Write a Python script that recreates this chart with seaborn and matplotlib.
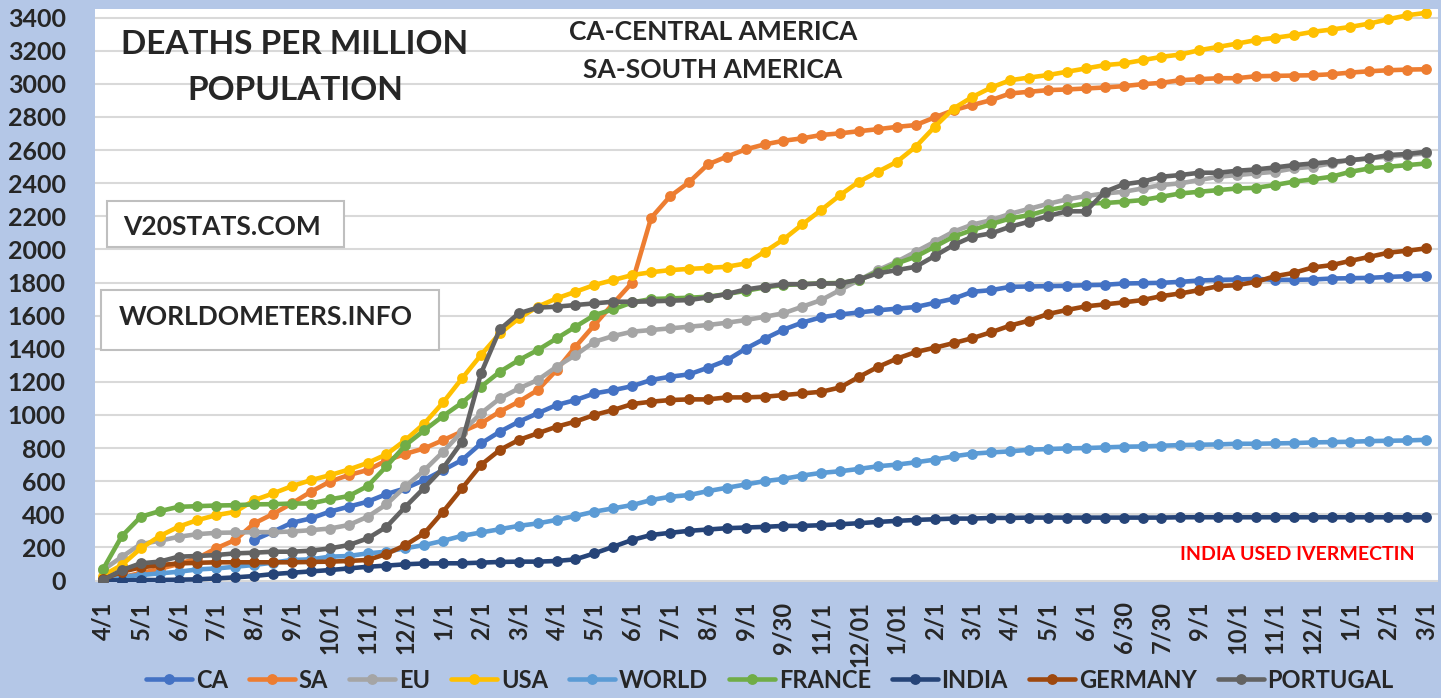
import numpy as np
import pandas as pd
import matplotlib
matplotlib.use("Agg")
import matplotlib.pyplot as plt
from matplotlib.patches import Rectangle
from matplotlib.lines import Line2D
import seaborn as sns

# ---------------- data ----------------
tick_labels = ["4/1", "5/1", "6/1", "7/1", "8/1", "9/1", "10/1", "11/1", "12/1", "1/1", "2/1", "3/1",
               "4/1", "5/1", "6/1", "7/1", "8/1", "9/1", "9/30", "11/1", "12/01", "1/01", "2/1", "3/1",
               "4/1", "5/1", "6/1", "6/30", "7/30", "9/1", "10/1", "11/1", "12/1", "1/1", "2/1", "3/1"]

series_names = ["CA", "SA", "EU", "USA", "WORLD", "FRANCE", "INDIA", "GERMANY", "PORTUGAL"]

ca = [None, None, None, None, None, None, None, None,
      245, 295, 349, 375, 416, 446, 476, 522, 557, 607, 667, 728, 828, 899, 959, 1010, 1060, 1090,
      1130, 1150, 1174, 1211, 1231, 1245, 1285, 1330, 1400, 1460, 1515, 1558, 1590, 1607, 1619, 1632,
      1642, 1652, 1677, 1702, 1744, 1754, 1774, 1776, 1778, 1780, 1784, 1786, 1794, 1796, 1798, 1804,
      1812, 1816, 1818, 1822, 1816, 1816, 1818, 1824, 1826, 1828, 1834, 1838, 1842]
sa = [5, 20, 45, 70, 100, 135, 195, 245, 345, 402, 466, 536, 597, 637, 667, 725, 765, 798, 848, 900,
      949, 1020, 1080, 1150, 1271, 1412, 1543, 1674, 1800, 2190, 2320, 2405, 2513, 2560, 2604, 2634,
      2656, 2671, 2691, 2701, 2714, 2726, 2740, 2751, 2797, 2841, 2872, 2902, 2942, 2952, 2962, 2966,
      2972, 2978, 2986, 2998, 3006, 3022, 3028, 3034, 3034, 3046, 3048, 3050, 3052, 3058, 3068, 3076,
      3082, 3086, 3088]
eu = [63, 143, 220, 240, 264, 280, 288, 290, 292, 292, 296, 304, 314, 335, 385, 460, 568, 666, 778,
      899, 1010, 1100, 1160, 1211, 1291, 1362, 1442, 1477, 1503, 1513, 1523, 1533, 1543, 1557, 1573,
      1593, 1614, 1654, 1694, 1755, 1815, 1875, 1926, 1986, 2046, 2107, 2150, 2177, 2215, 2245, 2275,
      2302, 2322, 2338, 2348, 2368, 2389, 2399, 2419, 2439, 2449, 2459, 2469, 2489, 2499, 2520, 2540,
      2550, 2560, 2570, 2580]
usa = [30, 94, 194, 268, 325, 365, 395, 415, 485, 526, 570, 606, 636, 670, 710, 762, 848, 948, 1076,
       1221, 1362, 1493, 1583, 1654, 1704, 1744, 1785, 1815, 1845, 1862, 1875, 1882, 1888, 1895, 1915,
       1985, 2060, 2151, 2238, 2328, 2409, 2469, 2529, 2620, 2740, 2851, 2921, 2978, 3022, 3038, 3053,
       3073, 3093, 3113, 3123, 3143, 3163, 3177, 3203, 3223, 3243, 3264, 3278, 3294, 3314, 3328, 3344,
       3364, 3390, 3414, 3429]
world = [3, 23, 33, 43, 53, 67, 73, 83, 94, 108, 124, 128, 144, 148, 164, 174, 195, 214, 240, 270,
         290, 310, 330, 345, 366, 390, 416, 436, 456, 486, 506, 516, 540, 560, 580, 600, 614, 634, 650,
         660, 674, 690, 700, 714, 730, 750, 766, 774, 780, 790, 794, 798, 800, 804, 808, 810, 814, 818,
         820, 822, 826, 826, 828, 830, 834, 836, 838, 842, 844, 846, 850]
france = [67, 268, 385, 419, 445, 449, 453, 455, 460, 461, 465, 465, 490, 510, 570, 690, 817, 907, 994,
          1074, 1170, 1261, 1331, 1392, 1462, 1533, 1603, 1638, 1680, 1700, 1704, 1708, 1714, 1730, 1750,
          1770, 1785, 1790, 1795, 1797, 1815, 1865, 1915, 1956, 2016, 2077, 2117, 2153, 2187, 2207, 2238,
          2258, 2278, 2280, 2288, 2298, 2318, 2338, 2348, 2358, 2368, 2372, 2389, 2409, 2423, 2439, 2469,
          2489, 2499, 2509, 2519]
india = [3, 0, 3, 3, 5, 7, 13, 19, 27, 39, 47, 55, 63, 73, 83, 90, 98, 103, 104, 104, 108, 112, 114,
         114, 118, 128, 164, 204, 245, 275, 288, 300, 308, 316, 320, 324, 330, 330, 334, 340, 346, 354,
         360, 366, 370, 374, 374, 378, 378, 380, 380, 380, 380, 380, 380, 380, 380, 382, 382, 382, 382,
         382, 382, 382, 382, 382, 382, 382, 382, 382, 382]
germany = [7, 53, 79, 93, 103, 107, 110, 110, 110, 110, 110, 112, 114, 118, 124, 160, 214, 285, 416,
           557, 698, 789, 849, 889, 929, 960, 1000, 1030, 1066, 1080, 1090, 1094, 1094, 1106, 1106, 1110,
           1120, 1130, 1140, 1166, 1230, 1290, 1340, 1380, 1406, 1434, 1464, 1500, 1540, 1570, 1610, 1634,
           1656, 1668, 1680, 1694, 1718, 1734, 1754, 1778, 1784, 1804, 1838, 1858, 1891, 1905, 1931, 1955,
           1980, 1992, 2006]
portugal = [3, 63, 104, 114, 144, 148, 154, 164, 168, 174, 174, 180, 194, 214, 254, 324, 445, 560, 680,
            838, 1251, 1517, 1614, 1648, 1654, 1664, 1674, 1684, 1684, 1686, 1690, 1694, 1710, 1730, 1758,
            1774, 1790, 1790, 1794, 1794, 1819, 1855, 1875, 1895, 1960, 2026, 2077, 2097, 2137, 2168, 2202,
            2230, 2230, 2348, 2393, 2409, 2439, 2449, 2463, 2463, 2475, 2483, 2495, 2509, 2519, 2529, 2539,
            2550, 2570, 2576, 2590]

colors = ["#4472C4", "#ED7D31", "#A5A5A5", "#FFC000", "#5B9BD5", "#70AD47", "#264478", "#9E480E", "#636363"]
all_series = [ca, sa, eu, usa, world, france, india, germany, portugal]

# ---------------- style ----------------
sns.set_theme(style="white")
plt.rcParams["font.family"] = ["Lato", "DejaVu Sans"]
plt.rcParams["font.weight"] = "bold"

W, H = 1441, 698
fig = plt.figure(figsize=(W / 100, H / 100), dpi=100)
fig.patch.set_facecolor("#B4C7E7")

ax = fig.add_axes([95 / W, 1 - 582 / H, (1438 - 95) / W, (582 - 9) / H])
ax.set_facecolor("white")

n = len(sa)
for name, vals, col in zip(series_names, all_series, colors):
    df = pd.DataFrame({"x": np.arange(n), "y": pd.to_numeric(pd.Series(vals), errors="coerce")}).dropna()
    sns.lineplot(data=df, x="x", y="y", ax=ax, color=col, linewidth=3.3, marker="o",
                 markersize=7.8, markeredgewidth=0, estimator=None, sort=False, legend=False)

ax.set_xlim(-0.42, 70.63)
ax.set_ylim(-9, 3452)
ax.set_yticks(np.arange(0, 3401, 200))
ax.set_xticks(np.arange(0, n, 2))
ax.set_xticklabels(tick_labels, rotation=90, fontsize=17, fontweight="bold", va="top")
ax.tick_params(axis="y", labelsize=18, pad=21, length=0)
ax.tick_params(axis="x", pad=14, length=0)
for lab in ax.get_yticklabels():
    lab.set_fontweight("bold")
ax.grid(axis="y", color="#D9D9D9", linewidth=1.5)
ax.grid(axis="x", visible=False)
ax.set_axisbelow(True)
for s in ax.spines.values():
    s.set_visible(False)
ax.set_xlabel("")
ax.set_ylabel("")

# ---------------- texts ----------------
def fx(px):
    return px / W

def fy(py):
    return 1 - py / H

fig.text(fx(295), fy(45), "DEATHS PER MILLION", ha="center", va="center", fontsize=24, fontweight="bold")
fig.text(fx(295), fy(90), "POPULATION", ha="center", va="center", fontsize=24, fontweight="bold")
fig.text(fx(713), fy(32), "CA-CENTRAL AMERICA", ha="center", va="center", fontsize=19, fontweight="bold")
fig.text(fx(713), fy(70), "SA-SOUTH AMERICA", ha="center", va="center", fontsize=19, fontweight="bold")

fig.add_artist(Rectangle((fx(107), fy(247)), fx(344 - 107), (247 - 201) / H, transform=fig.transFigure,
                         facecolor="white", edgecolor="#BFBFBF", linewidth=1.5, zorder=5))
fig.text(fx(222), fy(227), "V20STATS.COM", ha="center", va="center", fontsize=19, fontweight="bold", zorder=6)
fig.add_artist(Rectangle((fx(101), fy(350)), fx(439 - 101), (350 - 290) / H, transform=fig.transFigure,
                         facecolor="white", edgecolor="#BFBFBF", linewidth=1.5, zorder=5))
fig.text(fx(266), fy(317), "WORLDOMETERS.INFO", ha="center", va="center", fontsize=19, fontweight="bold", zorder=6)

fig.text(fx(1297), fy(555), "INDIA USED IVERMECTIN", ha="center", va="center", fontsize=14,
         fontweight="bold", color="#FF0000")

# ---------------- legend ----------------
handles = [Line2D([0], [0], color=c, linewidth=3.3, marker="o", markersize=7.8, markeredgewidth=0)
           for c in colors]
fig.legend(handles, series_names, loc="center", bbox_to_anchor=(fx(770), fy(680)), ncol=9, frameon=False,
           prop={"size": 17, "weight": "bold"}, handlelength=1.95, columnspacing=0.9, handletextpad=0.15,
           borderpad=0.1)

fig.savefig("out.png", dpi=100, facecolor=fig.get_facecolor())
